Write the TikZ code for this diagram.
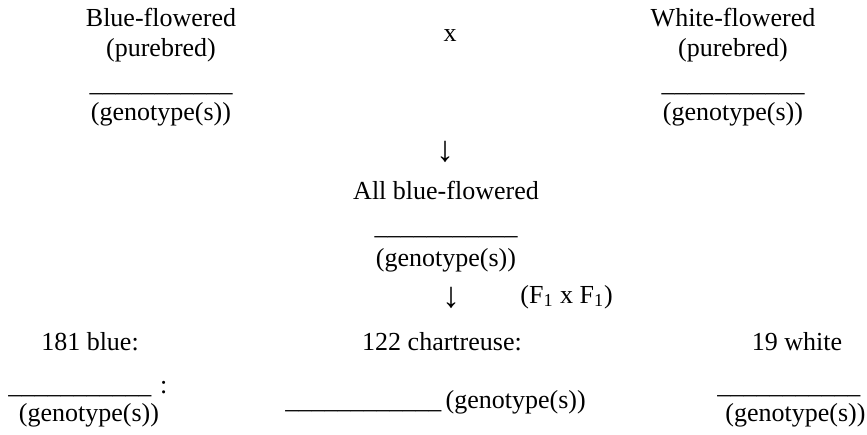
\documentclass[tikz,border=0pt]{standalone}
\usepackage{fontspec}
\setmainfont{Liberation Serif}
\usetikzlibrary{positioning}
\newcommand\answerline[1]{\foreach \k in {1,...,#1}{\_}}
\tikzset{
  txt/.style={inner sep=0pt, anchor=base, font=\fontsize{13}{15}\selectfont},
  blank/.style={txt},
  flowdown/.style={inner sep=0pt, anchor=center, font=\fontsize{18}{20}\selectfont}
}

\begin{document}
\begin{tikzpicture}[x=0.5pt,y=-0.5pt]
    \useasboundingbox (0,0) rectangle (867,434);
    % parents
    \node[txt] (blueP) at (161,26) {Blue-flowered};
    \node[txt] (blueP2) at (161,56) {(purebred)};
    \node[blank] (blueL) at (161,91) {\answerline{11}};
    \node[txt] (blueG) at (161,120) {(genotype(s))};
    \node[txt] (cross) at (450,41) {x};
    \node[txt] (whiteP) at (733,26) {White-flowered};
    \node[txt] (whiteP2) at (733,56) {(purebred)};
    \node[blank] (whiteL) at (733,91) {\answerline{11}};
    \node[txt] (whiteG) at (733,120) {(genotype(s))};
    % F1
    \node[flowdown] (down1) at (445,152) {↓};
    \node[txt] (fone) at (446,199) {All blue-flowered};
    \node[blank] (foneL) at (446,234) {\answerline{11}};
    \node[txt] (foneG) at (446,266) {(genotype(s))};
    \node[flowdown] (down2) at (451,298) {↓};
    \node[txt,anchor=base west] (selfing) at (520,303) {(F\textsubscript{1} x F\textsubscript{1})};
    % F2
    \node[txt] (blueF) at (90,350) {181 blue:};
    \node[blank,anchor=base west] (blueFL) at (8,393) {\answerline{11}\,\,:};
    \node[txt] (blueFG) at (89,421) {(genotype(s))};
    \node[txt] (chartF) at (442,350) {122 chartreuse:};
    \node[blank,anchor=base west] (chartFL) at (285,408) {\answerline{12}\,(genotype(s))};
    \node[txt] (whiteF) at (797,350) {19 white};
    \node[blank,anchor=base west] (whiteFL) at (717,393) {\answerline{11}};
    \node[txt,anchor=base west] (whiteFG) at (725,421) {(genotype(s))};
  \end{tikzpicture}
\end{document}
